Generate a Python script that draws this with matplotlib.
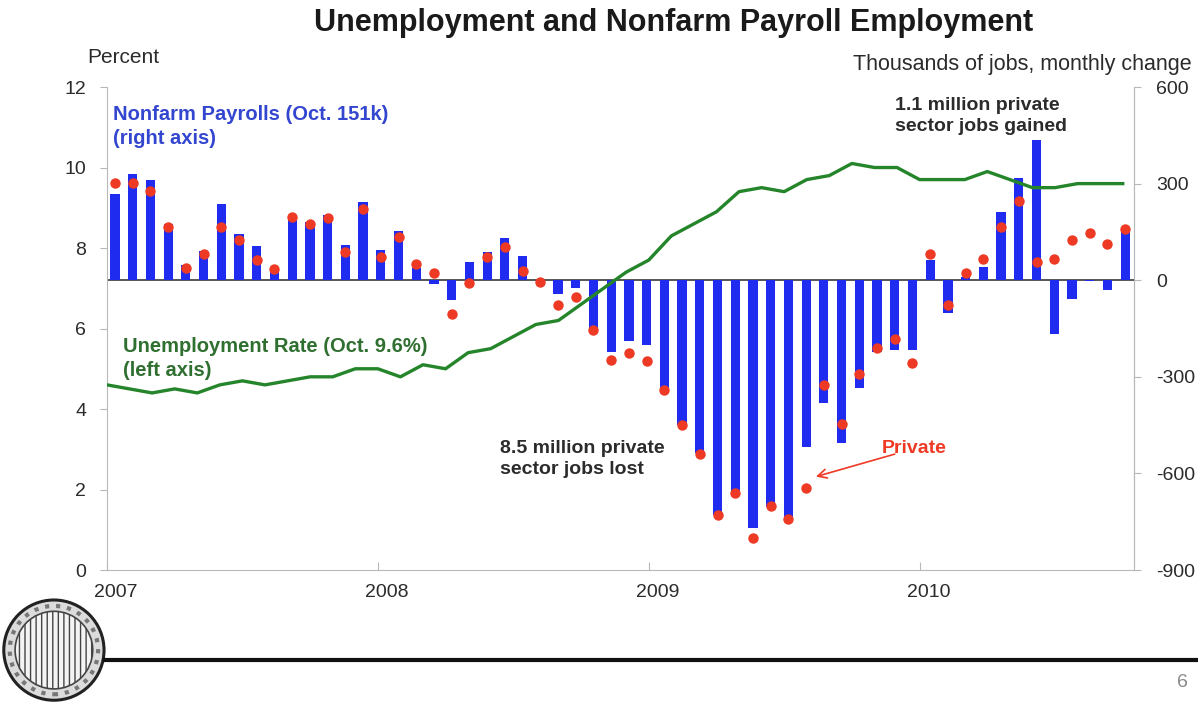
"""
Unemployment rate and nonfarm payroll employment, 2007-2010
"""

import numpy as np
import matplotlib.pyplot as plt
from matplotlib.patches import Circle
from matplotlib.transforms import ScaledTranslation

plt.rcParams['font.family'] = ['Liberation Sans', 'DejaVu Sans']
plt.rcParams['axes.unicode_minus'] = False

# Monthly change in jobs (thousands), 58 months ending Oct. 2010
nonfarm = [269, 331, 311, 176, 47, 91, 238, 145, 106, 25,
           197, 181, 202, 109, 243, 95, 153, 38, -12, -62,
           57, 88, 132, 75, -2, -43, -23, -155, -223, -188,
           -202, -342, -450, -538, -730, -662, -771, -704, -735, -517,
           -380, -507, -336, -223, -217, -217, 62, -101, 10, 41,
           212, 316, 435, -166, -57, -1, -31, 151]
private = [302, 302, 277, 164, 39, 81, 164, 126, 62, 36,
           195, 174, 192, 88, 220, 72, 135, 50, 21, -104,
           -8, 72, 103, 29, -5, -78, -52, -155, -248, -225,
           -250, -340, -450, -540, -730, -662, -800, -702, -740, -644,
           -326, -447, -292, -210, -181, -256, 81, -78, 21, 67,
           164, 246, 57, 67, 124, 147, 114, 159]

# Unemployment rate (%), Jan. 2007 - Oct. 2010
unrate = [4.6, 4.5, 4.4, 4.5, 4.4, 4.6, 4.7, 4.6, 4.7, 4.8, 4.8, 5.0,
          5.0, 4.8, 5.1, 5.0, 5.4, 5.5, 5.8, 6.1, 6.2, 6.6, 7.0, 7.4,
          7.7, 8.3, 8.6, 8.9, 9.4, 9.5, 9.4, 9.7, 9.8, 10.1, 10.0, 10.0,
          9.7, 9.7, 9.7, 9.9, 9.7, 9.5, 9.5, 9.6, 9.6, 9.6]
years = ['2007', '2008', '2009', '2010']

BAR_BLUE = '#1f2cf0'
DOT_RED = '#ee3a24'
LINE_GREEN = '#24852a'
TEXT_GRAY = '#2b2b2b'
AXIS_GRAY = '#b8b8b8'

fig = plt.figure(figsize=(11.98, 7.04), dpi=100)
ax = fig.add_axes([0.0893, 0.1903, 0.8573, 0.6861])

# left axis: unemployment rate
months = np.arange(len(unrate))
ax.set_xlim(0, len(unrate) - 0.5)
ax.set_ylim(0, 12)
ax.set_yticks(np.arange(0, 13, 2))
ax.set_xticks(np.arange(len(years)) * 12)
ax.set_xticklabels(years)
ax.tick_params(axis='y', direction='out', length=5, color=AXIS_GRAY,
               labelsize=14, labelcolor=TEXT_GRAY, pad=10)
ax.tick_params(axis='x', direction='in', length=6, color=AXIS_GRAY,
               labelsize=14, labelcolor=TEXT_GRAY, pad=10)
for lab in ax.get_xticklabels():
    lab.set_transform(lab.get_transform() +
                      ScaledTranslation(0.09, 0, fig.dpi_scale_trans))
for side in ['top', 'right']:
    ax.spines[side].set_visible(False)
for side in ['left', 'bottom']:
    ax.spines[side].set_color(AXIS_GRAY)

# right axis: payroll bars and private dots, indexed by month
axr = ax.twinx()
axb = axr.twiny()
axb.set_xlim(-0.45, len(nonfarm) - 0.5)
axr.set_ylim(-900, 600)
axr.set_yticks(np.arange(-900, 601, 300))
axr.tick_params(axis='y', direction='out', length=5, color=AXIS_GRAY,
                labelsize=14, labelcolor=TEXT_GRAY, pad=11)
axb.set_xticks([])
for a in (axr, axb):
    for side in ['top', 'left', 'bottom']:
        a.spines[side].set_visible(False)
    a.spines['right'].set_color(AXIS_GRAY)

idx = np.arange(len(nonfarm))
axb.bar(idx, nonfarm, width=0.52, color=BAR_BLUE, zorder=2)
axb.plot(idx, private, 'o', color=DOT_RED, markersize=7.5,
         markeredgewidth=0, zorder=3)
axb.axhline(0, color='#555555', lw=1.4, zorder=1)

# unemployment line drawn on top
ax.set_zorder(axr.get_zorder() + 1)
ax.patch.set_visible(False)
ax.plot(months, unrate, color=LINE_GREEN, lw=2.4, zorder=4)

# series labels and annotations
ax.text(0.006, 0.962, 'Nonfarm Payrolls (Oct. 151k)\n(right axis)',
        transform=ax.transAxes, ha='left', va='top', fontsize=14.5,
        fontweight='bold', color='#3346cf', linespacing=1.3)
ax.text(0.016, 0.482, 'Unemployment Rate (Oct. 9.6%)\n(left axis)',
        transform=ax.transAxes, ha='left', va='top', fontsize=14.5,
        fontweight='bold', color='#2f6f30', linespacing=1.3)
ax.text(0.383, 0.27, '8.5 million private\nsector jobs lost',
        transform=ax.transAxes, ha='left', va='top', fontsize=14,
        fontweight='bold', color=TEXT_GRAY, linespacing=1.35)
ax.text(0.767, 0.98, '1.1 million private\nsector jobs gained',
        transform=ax.transAxes, ha='left', va='top', fontsize=14,
        fontweight='bold', color=TEXT_GRAY, linespacing=1.35)
ax.text(0.754, 0.27, 'Private', transform=ax.transAxes, ha='left',
        va='top', fontsize=14, fontweight='bold', color=DOT_RED)
axb.annotate('', xy=(39.55, -610), xytext=(44.0, -540),
             arrowprops=dict(arrowstyle='->', color=DOT_RED, lw=1.2,
                             shrinkA=0, shrinkB=0, mutation_scale=16))

# titles and axis units
fig.text(0.562, 0.968, 'Unemployment and Nonfarm Payroll Employment',
         ha='center', va='center', fontsize=22, fontweight='bold',
         color='#1a1a1a')
fig.text(0.073, 0.918, 'Percent', ha='left', va='center', fontsize=15,
         color=TEXT_GRAY)
fig.text(0.995, 0.909, 'Thousands of jobs, monthly change', ha='right',
         va='center', fontsize=15.5, color=TEXT_GRAY)

# footer rule, page number and seal
fig.add_artist(plt.Line2D([0.088, 1.0], [0.0625, 0.0625],
                          transform=fig.transFigure, color='#111111', lw=3))
fig.text(0.987, 0.03, '6', ha='center', va='center', fontsize=14,
         color='#8a8a8a')
seal = fig.add_axes([0.0, 0.0, 0.09, 0.1531])
seal.set_xlim(-1, 1)
seal.set_ylim(-1, 1)
seal.set_aspect('equal')
seal.axis('off')
seal.add_patch(Circle((0, 0), 0.93, facecolor='#dcdcdc', edgecolor='#222222',
                      lw=2.2))
seal.add_patch(Circle((0, 0), 0.72, facecolor='#f4f4f4', edgecolor='#444444',
                      lw=1.2, hatch='|||'))
seal.add_patch(Circle((0, 0), 0.82, facecolor='none', edgecolor='#777777',
                      lw=3, linestyle=':'))

fig.savefig('out.png', dpi=100)
